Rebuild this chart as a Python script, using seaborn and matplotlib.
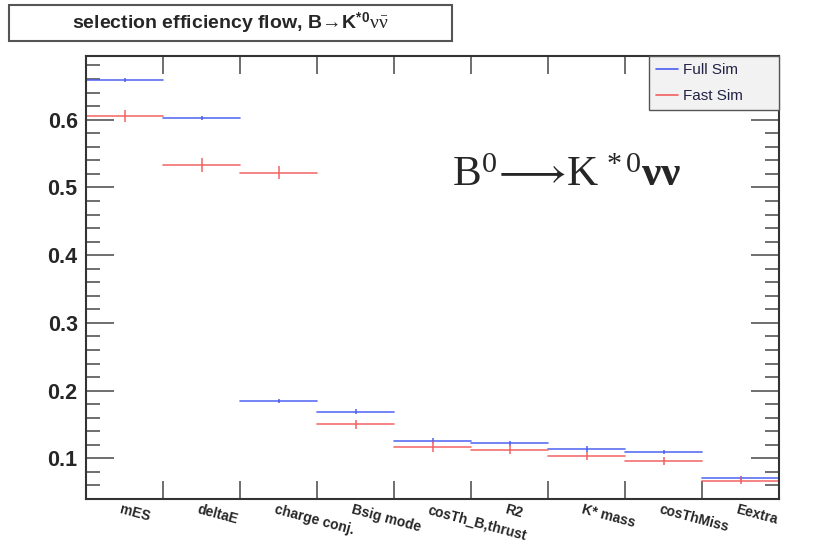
import numpy as np
import pandas as pd
import seaborn as sns
import matplotlib
matplotlib.use("Agg")
import matplotlib.pyplot as plt
from matplotlib.patches import Rectangle
from matplotlib.ticker import MultipleLocator, FixedLocator, NullFormatter
from matplotlib.lines import Line2D
import matplotlib.transforms as mtransforms

# ---- data ----
categories = ["mES", "deltaE", "charge conj.", "Bsig mode", "cosTh_B,thrust",
              "R2", "K* mass", "cosThMiss", "Eextra"]
full_sim = [0.659, 0.602, 0.184, 0.169, 0.126, 0.122, 0.114, 0.109, 0.071]
full_err = [0.003, 0.003, 0.003, 0.004, 0.004, 0.004, 0.004, 0.003, 0.003]
fast_sim = [0.606, 0.533, 0.522, 0.150, 0.117, 0.113, 0.104, 0.096, 0.067]
fast_err = [0.009, 0.010, 0.010, 0.007, 0.008, 0.007, 0.006, 0.006, 0.005]
series_names = ["Full Sim", "Fast Sim"]
series_colors = ["#4a5ef2", "#f26060"]

sns.set_style("ticks")
plt.rcParams['font.family'] = ['Liberation Sans', 'DejaVu Sans']
plt.rcParams['mathtext.fontset'] = 'custom'
plt.rcParams['mathtext.rm'] = 'Liberation Serif'
plt.rcParams['mathtext.it'] = 'Liberation Serif:italic'
plt.rcParams['mathtext.bf'] = 'Liberation Serif:bold'
plt.rcParams['mathtext.sf'] = 'Liberation Sans:bold'

fig = plt.figure(figsize=(8.38, 5.43), dpi=100)
ax = fig.add_axes([86/838, 1-499/543, (779-86)/838, (499-56)/543])

# Build a long table of bin segments for seaborn
rows = []
for name, vals in zip(series_names, [full_sim, fast_sim]):
    for i, v in enumerate(vals):
        rows.append({"series": name, "bin": i, "x": i, "y": v})
        rows.append({"series": name, "bin": i, "x": i + 1, "y": v})
df = pd.DataFrame(rows)

sns.lineplot(data=df, x="x", y="y", hue="series", units="bin", estimator=None,
             palette=dict(zip(series_names, series_colors)), linewidth=1.2,
             legend=False, ax=ax, alpha=0.9)

centers = np.arange(len(categories)) + 0.5
for vals, errs, col in [(full_sim, full_err, series_colors[0]),
                        (fast_sim, fast_err, series_colors[1])]:
    ax.errorbar(centers, vals, yerr=errs, fmt="none", ecolor=col,
                elinewidth=1.2, capsize=0, alpha=0.9)

ax.set_xlim(0, len(categories))
ax.set_ylim(0.04, 0.694)
ax.set_xlabel("")
ax.set_ylabel("")

# y ticks
ax.yaxis.set_major_locator(MultipleLocator(0.1))
ax.yaxis.set_minor_locator(MultipleLocator(0.02))
ax.tick_params(axis="y", which="major", direction="in", length=20, width=1.2,
               color="#555555", right=True, left=True, labelsize=15.5, pad=6)
ax.tick_params(axis="y", which="minor", direction="in", length=10, width=1.2,
               color="#555555", right=True, left=True)
for lab in ax.get_yticklabels():
    lab.set_fontweight("bold")

# x ticks at bin edges, no labels
ax.xaxis.set_major_locator(FixedLocator(np.arange(1, len(categories))))
ax.xaxis.set_major_formatter(NullFormatter())
ax.tick_params(axis="x", which="major", direction="in", length=13, width=1.2,
               color="#555555", top=True, bottom=True)

for s in ax.spines.values():
    s.set_color("#333333")
    s.set_linewidth(1.5)

# category labels
trans = mtransforms.blended_transform_factory(ax.transData, ax.transAxes)
for c, lab in zip(centers, categories):
    ax.text(c - 0.03, -0.008, lab, transform=trans, rotation=-15,
            rotation_mode="anchor", ha="left", va="top", fontsize=10,
            fontweight="bold")

# legend
handles = [Line2D([0], [0], color=c, lw=1.2) for c in series_colors]
leg = ax.legend(handles, series_names, loc="upper left",
                bbox_to_anchor=((649-86)/693, 1.0, (779-649)/693, 0.0),
                mode="expand", frameon=True,
                fancybox=False, fontsize=11, handlelength=1.45,
                handletextpad=0.35, borderaxespad=0, labelspacing=0.8,
                borderpad=0.45)
leg.get_frame().set_facecolor("#f2f2f2")
leg.get_frame().set_edgecolor("#555555")
leg.get_frame().set_linewidth(1.0)
leg.get_frame().set_alpha(1)
for t in leg.get_texts():
    t.set_color("#222244")

# big decay annotation
ax.text(452/838, 1-186/543,
        r"$\mathrm{B}^{0}\!\longrightarrow\!\mathrm{K}^{\,*0}\mathbf{νν}$",
        transform=fig.transFigure, fontsize=31,
        ha="left", va="baseline")

# title box
fig.patches.append(Rectangle((9/838, 1-41/543), (452-9)/838, (41-5)/543,
                             transform=fig.transFigure, facecolor="white",
                             edgecolor="#555555", linewidth=1.5))
fig.text(230/838, 1-23/543,
         r"selection efficiency flow, B$\!\rightarrow\!$K$^{\mathsf{*0}}$$\mathrm{ν\bar{ν}}$",
         ha="center", va="center", fontsize=14, fontweight="bold")

fig.savefig("out.png", dpi=100)
